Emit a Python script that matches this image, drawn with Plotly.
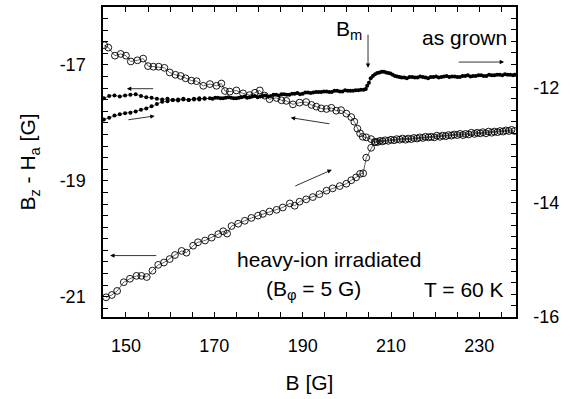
import plotly.graph_objects as go

# ---------------- data ----------------
# heavy-ion irradiated, increasing field (open circles, left axis)
irr_up_B = [145.5, 146.8, 148.0, 149.5, 150.9, 152.4, 153.5, 154.7, 156.0, 157.3,
            158.6, 159.9, 161.1, 162.6, 163.7, 165.2, 166.3, 167.9, 169.4, 170.9,
            172.0, 172.9, 173.9, 175.4, 176.9, 178.4, 179.9, 181.0, 182.5, 184.1,
            185.5, 187.1, 188.2, 189.3, 190.8, 192.3, 193.8, 195.4, 196.8, 198.4,
            199.9, 201.0, 202.1, 203.0, 203.7, 204.4, 205.5, 206.3, 207.0, 208.1,
            209.4, 210.7, 212.0, 213.3, 214.6, 215.9, 217.2, 218.5, 219.8, 221.1,
            222.4, 223.7, 225.0, 226.3, 227.6, 228.9, 230.2, 231.5, 232.8, 234.1,
            235.4, 236.7, 238.0]
irr_up_V = [-21.01, -20.97, -20.90, -20.75, -20.69, -20.64, -20.64, -20.66, -20.55, -20.45,
            -20.41, -20.35, -20.28, -20.21, -20.24, -20.12, -20.06, -20.03, -19.98, -19.92,
            -19.87, -19.91, -19.78, -19.74, -19.69, -19.64, -19.60, -19.57, -19.53, -19.50,
            -19.46, -19.39, -19.43, -19.36, -19.32, -19.28, -19.23, -19.17, -19.13, -19.09,
            -19.05, -18.99, -18.94, -18.88, -18.87, -18.60, -18.43, -18.33, -18.33, -18.32,
            -18.31, -18.30, -18.29, -18.29, -18.28, -18.27, -18.26, -18.25, -18.25, -18.24,
            -18.23, -18.22, -18.21, -18.21, -18.20, -18.19, -18.18, -18.18, -18.17, -18.16,
            -18.15, -18.14, -18.14]

# heavy-ion irradiated, decreasing field (open circles, left axis)
irr_dn_B = [145.1, 146.0, 147.5, 148.8, 150.0, 151.1, 152.6, 153.9, 155.0, 156.2,
            157.4, 158.7, 159.9, 161.2, 162.4, 163.5, 164.8, 166.0, 167.5, 169.0,
            170.5, 171.6, 172.4, 173.5, 175.0, 176.5, 178.0, 179.2, 180.3, 181.4,
            182.5, 184.1, 185.2, 186.3, 187.8, 189.3, 190.8, 192.0, 193.1, 194.2,
            195.4, 196.5, 197.6, 198.7, 199.9, 201.0, 201.7, 202.4, 203.0, 203.6,
            204.4, 205.5, 206.5, 207.5, 208.7, 210.0, 211.3, 212.6, 213.9, 215.2,
            216.5, 217.8, 219.1, 220.4, 221.7, 223.0, 224.3, 225.6, 226.9, 228.2,
            229.5, 230.8, 232.1, 233.4, 234.7, 236.0, 237.3]
irr_dn_V = [-16.66, -16.70, -16.84, -16.81, -16.84, -16.94, -16.92, -16.89, -17.02, -17.03,
            -17.03, -17.05, -17.13, -17.17, -17.19, -17.23, -17.27, -17.28, -17.36, -17.33,
            -17.36, -17.32, -17.45, -17.46, -17.44, -17.49, -17.52, -17.48, -17.44, -17.53,
            -17.59, -17.57, -17.61, -17.62, -17.68, -17.65, -17.64, -17.69, -17.72, -17.75,
            -17.76, -17.74, -17.79, -17.78, -17.84, -17.90, -17.98, -18.10, -18.18, -18.24,
            -18.25, -18.28, -18.33, -18.31, -18.30, -18.29, -18.28, -18.27, -18.27, -18.26,
            -18.25, -18.24, -18.24, -18.22, -18.22, -18.21, -18.20, -18.19, -18.19, -18.17,
            -18.17, -18.16, -18.15, -18.15, -18.14, -18.13, -18.12]

# as grown, decreasing field (filled dots, right axis)
ag_dn_B = [145.0, 146.2, 147.4, 148.6, 149.8, 151.0, 152.2, 153.4, 154.6, 155.8,
           157.0, 158.2, 159.4, 160.6, 161.8, 163.0, 164.2, 165.4, 166.6, 167.8,
           169.0, 170.2, 171.4, 172.6, 173.8, 175.0, 176.2, 177.4, 178.6, 179.8,
           181.0, 182.2, 183.4, 184.6, 185.8, 187.0, 188.2, 189.4, 190.6, 191.8,
           193.0, 194.2, 195.4, 196.6, 197.8, 199.0, 200.2, 201.4, 202.6, 203.8,
           204.6, 205.4, 206.4, 207.4, 208.4, 209.4, 210.4, 211.4, 212.4, 213.6,
           214.8, 216.0, 217.2, 218.4, 219.6, 220.8, 222.0, 223.2, 224.4, 225.6,
           226.8, 228.0, 229.2, 230.4, 231.6, 232.8, 234.0, 235.2, 236.4, 237.6]
ag_dn_V = [-12.19, -12.15, -12.14, -12.16, -12.14, -12.13, -12.12, -12.15, -12.17, -12.18,
           -12.20, -12.21, -12.20, -12.22, -12.21, -12.20, -12.22, -12.21, -12.19, -12.20,
           -12.19, -12.18, -12.19, -12.18, -12.18, -12.19, -12.17, -12.18, -12.16, -12.17,
           -12.15, -12.16, -12.13, -12.14, -12.12, -12.13, -12.11, -12.12, -12.09, -12.10,
           -12.08, -12.08, -12.07, -12.08, -12.06, -12.07, -12.06, -12.06, -12.05, -12.04,
           -11.97, -11.84, -11.77, -11.74, -11.73, -11.75, -11.78, -11.81, -11.83, -11.84,
           -11.82, -11.83, -11.82, -11.84, -11.82, -11.83, -11.81, -11.82, -11.81, -11.82,
           -11.80, -11.81, -11.80, -11.79, -11.80, -11.79, -11.78, -11.79, -11.78, -11.79]

# as grown, increasing field (filled dots, right axis)
ag_up_B = [145.0, 146.2, 147.4, 148.6, 149.8, 151.0, 152.2, 153.4, 154.6, 155.8,
           157.0, 158.2, 159.4, 160.6, 161.8, 163.0, 164.2, 165.4, 166.6, 167.8,
           169.6, 170.8, 172.0, 173.2, 174.4, 175.6, 176.8, 178.0, 179.2, 180.4,
           181.6, 182.8, 184.0, 185.2, 186.4, 187.6, 188.8, 190.0, 191.2, 192.4,
           193.6, 194.8, 196.0, 197.2, 198.4, 199.6, 200.8, 202.0, 203.2, 204.3,
           205.0, 205.9, 206.9, 207.9, 208.9, 209.9, 210.9, 211.9, 213.0, 214.2,
           215.4, 216.6, 217.8, 219.0, 220.2, 221.4, 222.6, 223.8, 225.0, 226.2,
           227.4, 228.6, 229.8, 231.0, 232.2, 233.4, 234.6, 235.8, 237.0, 238.0]
ag_up_V = [-12.56, -12.53, -12.49, -12.47, -12.45, -12.44, -12.42, -12.39, -12.37, -12.33,
           -12.29, -12.25, -12.24, -12.22, -12.23, -12.21, -12.22, -12.20, -12.21, -12.19,
           -12.20, -12.18, -12.19, -12.17, -12.19, -12.18, -12.16, -12.17, -12.15, -12.16,
           -12.14, -12.15, -12.13, -12.12, -12.13, -12.11, -12.10, -12.11, -12.09, -12.09,
           -12.08, -12.07, -12.08, -12.06, -12.07, -12.05, -12.06, -12.05, -12.04, -12.03,
           -11.92, -11.80, -11.75, -11.73, -11.74, -11.76, -11.80, -11.82, -11.83, -11.82,
           -11.83, -11.81, -11.83, -11.82, -11.81, -11.82, -11.80, -11.81, -11.82, -11.80,
           -11.79, -11.80, -11.79, -11.80, -11.78, -11.79, -11.78, -11.77, -11.78, -11.78]

x_ticks = [150, 170, 190, 210, 230]
y_left_ticks = [-17, -19, -21]
y_left_labels = ["-17", "-19", "-21"]
y_right_ticks = [-12, -14, -16]
y_right_labels = ["-12", "-14", "-16"]

FONT = "Liberation Sans, Arial, Helvetica, sans-serif"

fig = go.Figure()

open_marker = dict(symbol="circle-open", size=6.8, color="black", line=dict(width=0.9, color="black"))
dot_marker = dict(symbol="circle", size=4, color="black")
thin = dict(color="black", width=0.6)

fig.add_trace(go.Scatter(x=irr_up_B, y=irr_up_V, mode="lines+markers", marker=open_marker,
                         line=thin, yaxis="y", name="irradiated up"))
fig.add_trace(go.Scatter(x=irr_dn_B, y=irr_dn_V, mode="lines+markers", marker=open_marker,
                         line=thin, yaxis="y", name="irradiated down"))
fig.add_trace(go.Scatter(x=ag_dn_B, y=ag_dn_V, mode="lines+markers", marker=dot_marker,
                         line=thin, yaxis="y2", name="as grown down"))
fig.add_trace(go.Scatter(x=ag_up_B, y=ag_up_V, mode="lines+markers", marker=dot_marker,
                         line=thin, yaxis="y2", name="as grown up"))

tickfont = dict(family=FONT, size=18, color="black")
minor_common = dict(ticks="inside", ticklen=5, tickcolor="black", tickwidth=1)

fig.update_layout(
    width=574, height=399,
    margin=dict(l=103, r=58, t=5, b=82),
    paper_bgcolor="white", plot_bgcolor="white",
    showlegend=False,
    font=dict(family=FONT, color="black"),
    xaxis=dict(range=[144.8, 238.3], tickvals=x_ticks, ticks="inside", ticklen=5,
               tickcolor="black", tickwidth=1, showline=True, linecolor="black", linewidth=1.5,
               mirror="ticks", showgrid=False, zeroline=False, tickfont=tickfont,
               ticklabelstandoff=12,
               minor=dict(dtick=5, tick0=150, **minor_common),
               title=dict(text="B [G]", font=dict(family=FONT, size=21), standoff=20)),
    yaxis=dict(range=[-21.35, -16.0], tickvals=y_left_ticks, ticktext=y_left_labels,
               ticks="inside", ticklen=5,
               tickcolor="black", tickwidth=1, showline=True, linecolor="black", linewidth=1.5,
               showgrid=False, zeroline=False, tickfont=tickfont, ticklabelstandoff=12,
               minor=dict(dtick=0.2, tick0=-17, **minor_common),
               title=dict(text="B<sub>z</sub> - H<sub>a</sub> [G]", font=dict(family=FONT, size=21),
                          standoff=18)),
    yaxis2=dict(range=[-16.0, -10.6], tickvals=y_right_ticks, ticktext=y_right_labels,
                overlaying="y", side="right",
                ticks="inside", ticklen=5, tickcolor="black", tickwidth=1, showline=True,
                linecolor="black", linewidth=1.5, showgrid=False, zeroline=False,
                tickfont=tickfont, ticklabelstandoff=12,
                minor=dict(dtick=0.2, tick0=-12, **minor_common)),
)

# --- text annotations (data coordinates of x / left y axis)
txt = dict(family=FONT, size=21, color="black")
fig.add_annotation(x=196.0, y=-20.36, xref="x", yref="y", text="heavy-ion irradiated",
                   showarrow=False, font=txt)
fig.add_annotation(x=192.4, y=-20.88, xref="x", yref="y", text="(B<sub>φ</sub> = 5 G)",
                   showarrow=False, font=txt)
fig.add_annotation(x=226.6, y=-20.88, xref="x", yref="y", text="T = 60 K",
                   showarrow=False, font=txt)
fig.add_annotation(x=200.5, y=-16.40, xref="x", yref="y", text="B<sub>m</sub>",
                   showarrow=False, font=txt)
fig.add_annotation(x=226.6, y=-16.52, xref="x", yref="y", text="as grown",
                   showarrow=False, font=txt)

# --- arrows (tail -> head), in data coordinates
arrows = [
    ((204.8, -16.45), (204.8, -17.05)),   # B_m marker
    ((225.0, -16.95), (235.6, -16.95)),   # as grown -> right axis
    ((156.5, -17.41), (150.2, -17.41)),   # as grown, decreasing
    ((150.2, -17.95), (156.5, -17.88)),   # as grown, increasing
    ((196.4, -18.02), (187.3, -17.91)),   # irradiated, decreasing
    ((188.0, -19.10), (196.6, -18.81)),   # irradiated, increasing
    ((157.2, -20.29), (146.4, -20.29)),   # irradiated -> left axis
]
for (tx, ty), (hx, hy) in arrows:
    fig.add_annotation(x=hx, y=hy, ax=tx, ay=ty, xref="x", yref="y", axref="x", ayref="y",
                       text="", showarrow=True, arrowhead=2, arrowsize=1.1, arrowwidth=0.8,
                       arrowcolor="black", standoff=0, startstandoff=0)

fig.write_html("out.html", config={"displayModeBar": False},
               post_script="document.body.style.margin='0px';")
